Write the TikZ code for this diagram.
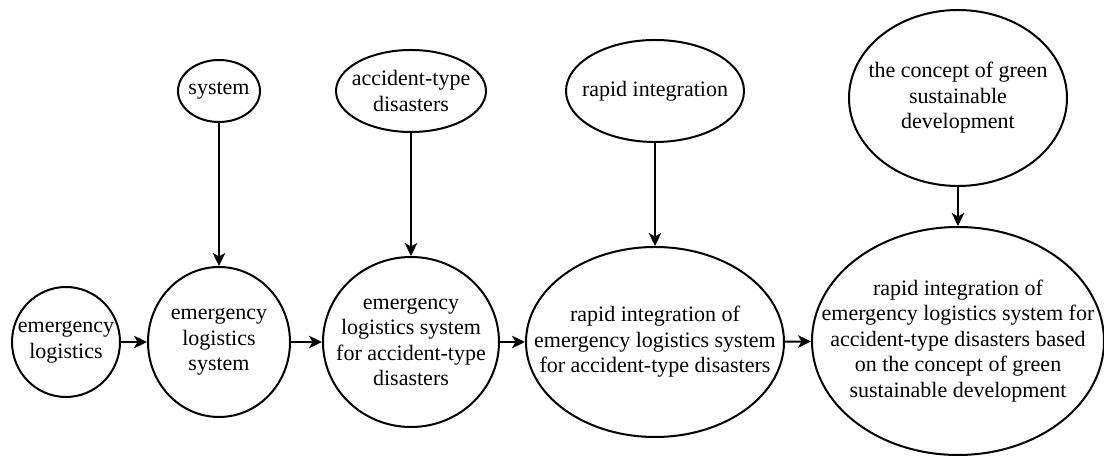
\documentclass[tikz,border=0pt]{standalone}
\usepackage{fontspec}
\setmainfont{Liberation Serif}
\newfontfamily\bubblefont{Liberation Serif}
\usepackage{tikz}
\usetikzlibrary{arrows.meta, shapes.geometric}

\begin{document}
\begin{tikzpicture}[x=1pt, y=1pt, line join=round,
    bubble/.style={draw, ellipse, line width=2pt, inner sep=0pt},
    txt/.style={align=center, inner sep=0pt, font=\bubblefont\fontsize{22}{25.5}\selectfont},
    arr/.style={-{Stealth[length=13pt, width=12.5pt, inset=3.5pt]}, line width=2pt}]

    \useasboundingbox (0,0) rectangle (1104,457);

    % 下排:逐步扩展的概念
    \node[bubble, minimum width=108pt, minimum height=110pt,
        label={[txt]center:emergency\\logistics}] (el) at (66,115) {};
    \node[bubble, minimum width=142pt, minimum height=150pt,
        label={[txt]center:emergency\\logistics\\system}] (els) at (219,115) {};
    \node[bubble, minimum width=176pt, minimum height=170pt,
        label={[txt]center:emergency\\logistics system\\for accident-type\\disasters}] (elsad) at (411,115) {};
    \node[bubble, minimum width=258pt, minimum height=190pt,
        label={[txt]center:rapid integration of\\emergency logistics system\\for accident-type disasters}] (ri) at (655,115) {};
    \node[bubble, minimum width=292pt, minimum height=228pt,
        label={[txt]center:rapid integration of\\emergency logistics system for\\accident-type disasters based\\on the concept of green\\sustainable development}] (fin) at (958,116) {};

    % 上排:加入的限定词
    \node[bubble, minimum width=82pt, minimum height=62pt,
        label={[txt]center:system}] (sys) at (219,366) {};
    \node[bubble, minimum width=150pt, minimum height=82pt,
        label={[txt]center:accident-type\\disasters}] (acc) at (411,366) {};
    \node[bubble, minimum width=178pt, minimum height=102pt,
        label={[txt]center:rapid integration}] (rap) at (655,366) {};
    \node[bubble, minimum width=218pt, minimum height=176pt,
        label={[txt]center:the concept of green\\sustainable\\development}] (con) at (958,359) {};

    % 横向箭头
    \draw[arr] (el) -- (els);
    \draw[arr] (els) -- (elsad);
    \draw[arr] (elsad) -- (ri);
    \draw[arr] (ri) -- (fin);

    % 纵向箭头
    \draw[arr] (sys) -- (els);
    \draw[arr] (acc) -- (elsad);
    \draw[arr] (rap) -- (ri);
    \draw[arr] (con) -- (fin);

\end{tikzpicture}
\end{document}
